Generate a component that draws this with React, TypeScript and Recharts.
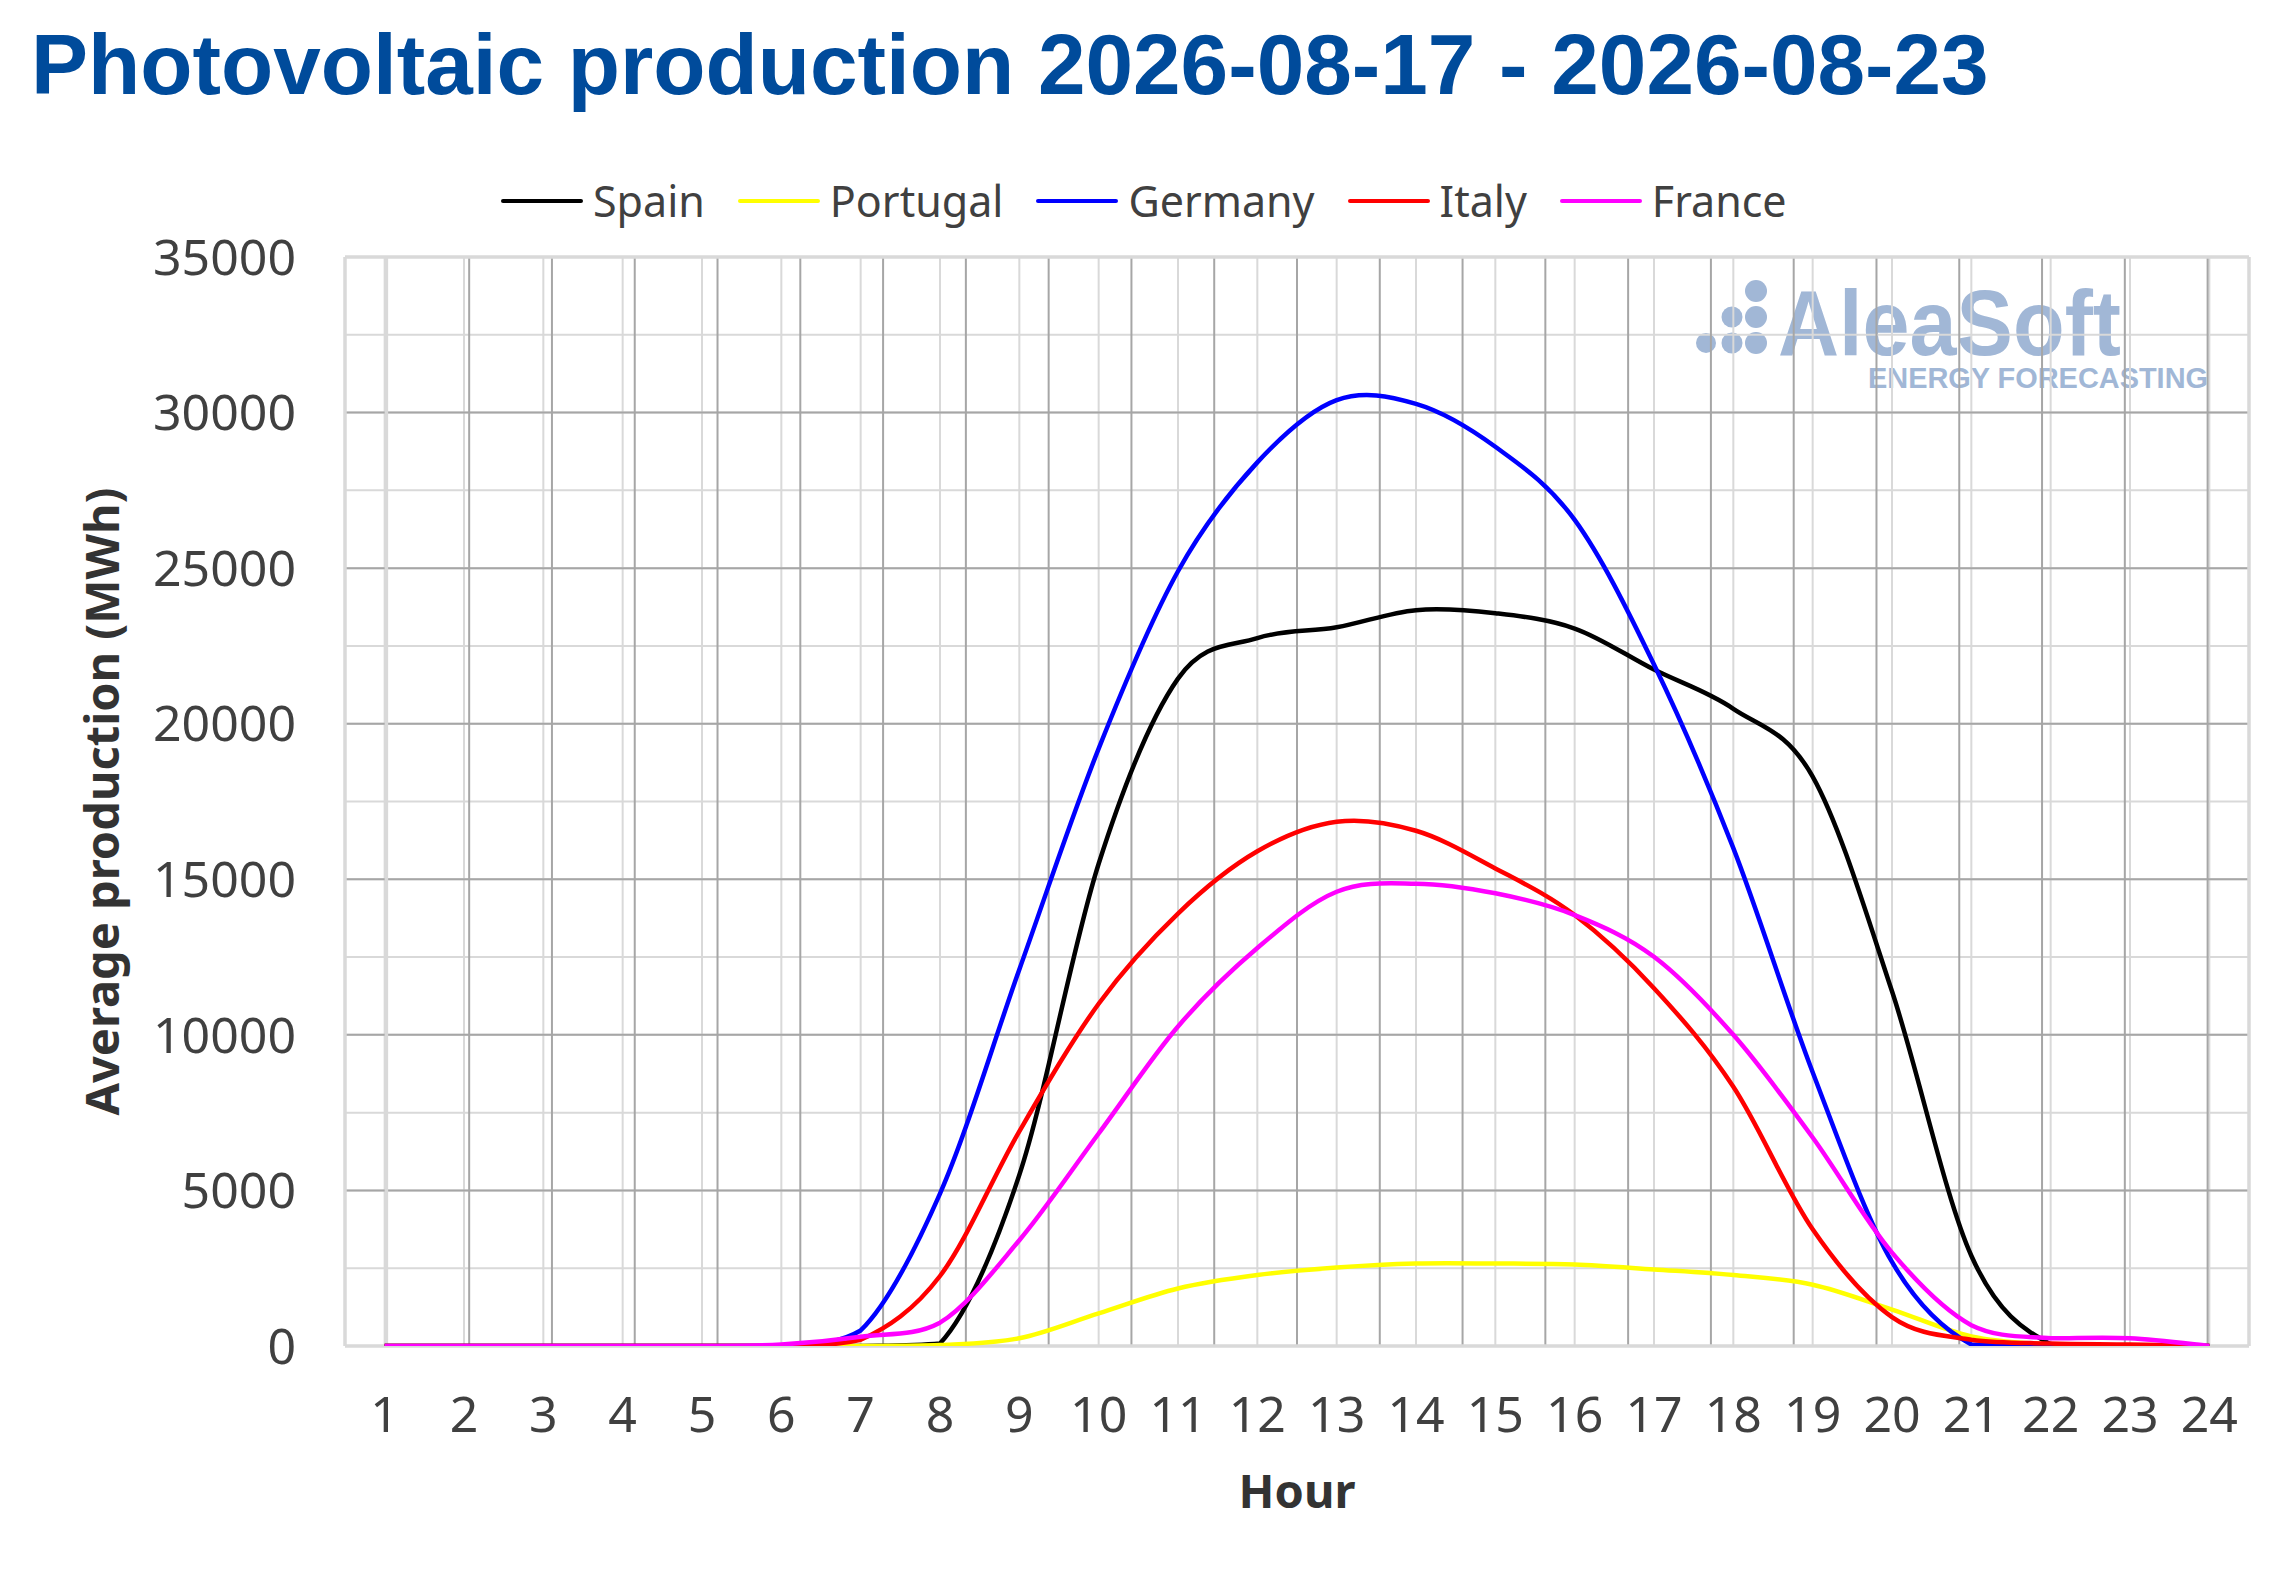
import React from 'react';
import { LineChart, Line, XAxis, YAxis, CartesianGrid } from 'recharts';

const HOURS = [1, 2, 3, 4, 5, 6, 7, 8, 9, 10, 11, 12, 13, 14, 15, 16, 17, 18, 19, 20, 21, 22, 23, 24];

const SPAIN = [0, 0, 0, 0, 0, 0, 0, 80, 5500, 15500, 21450, 22750, 23100, 23650, 23550, 23060, 21740, 20480, 18300, 11400, 2900, 50, 0, 0];
const PORTUGAL = [0, 0, 0, 0, 0, 0, 0, 30, 250, 1050, 1850, 2280, 2520, 2650, 2650, 2620, 2460, 2280, 1970, 1170, 310, 50, 0, 0];
const GERMANY = [0, 0, 0, 0, 0, 0, 500, 4900, 12100, 19200, 24900, 28400, 30400, 30280, 28900, 26550, 21900, 16000, 8800, 2700, 50, 0, 0, 0];
const ITALY = [0, 0, 0, 0, 0, 0, 200, 2250, 6900, 11000, 13900, 15900, 16850, 16560, 15350, 13850, 11500, 8330, 3750, 930, 200, 80, 50, 0];
const FRANCE = [0, 0, 0, 0, 0, 50, 300, 750, 3400, 6830, 10270, 12790, 14600, 14860, 14550, 13850, 12510, 10000, 6700, 3000, 670, 250, 250, 0];

const SERIES = [
  { key: 'Spain', color: '#000000', width: 4.5, values: SPAIN },
  { key: 'Portugal', color: '#ffff00', width: 4.5, values: PORTUGAL },
  { key: 'Germany', color: '#0000ff', width: 4.5, values: GERMANY },
  { key: 'Italy', color: '#ff0000', width: 4.5, values: ITALY },
  { key: 'France', color: '#ff00ff', width: 4.5, values: FRANCE },
];

const Y_TICKS = [0, 5000, 10000, 15000, 20000, 25000, 30000, 35000];
const Y_INNER_TICKS = [5000, 10000, 15000, 20000, 25000, 30000];
const Y_MINOR_TICKS = [0, 2500, 5000, 7500, 10000, 12500, 15000, 17500, 20000, 22500, 25000, 27500, 30000, 32500, 35000];
const Y_FRAME_TICKS = [0, 35000];
const X_EDGE_TICKS = [1.5, 2.5, 3.5, 4.5, 5.5, 6.5, 7.5, 8.5, 9.5, 10.5, 11.5, 12.5, 13.5, 14.5, 15.5, 16.5, 17.5, 18.5, 19.5, 20.5, 21.5, 22.5, 23.5];
const X_FRAME_TICKS = [0.5, 24.5];

const data = HOURS.map((hour, i) => {
  const row: Record<string, number> = { hour };
  SERIES.forEach(s => { row[s.key] = s.values[i]; });
  return row;
});

// Excel-like smoothing: catmull-rom beziers, but controls may not sink below the lower end of a segment
const excelSmooth = (context: any) => {
  let pts: number[][] = [];
  return {
    areaStart() {},
    areaEnd() {},
    lineStart() { pts = []; },
    point(x: number, y: number) { pts.push([+x, +y]); },
    lineEnd() {
      if (!pts.length) return;
      context.moveTo(pts[0][0], pts[0][1]);
      for (let i = 0; i < pts.length - 1; i++) {
        const p0 = pts[Math.max(i - 1, 0)];
        const p1 = pts[i];
        const p2 = pts[i + 1];
        const p3 = pts[Math.min(i + 2, pts.length - 1)];
        const floor = Math.max(p1[1], p2[1]);
        const c1y = Math.min(p1[1] + (p2[1] - p0[1]) / 6, floor);
        const c2y = Math.min(p2[1] - (p3[1] - p1[1]) / 6, floor);
        context.bezierCurveTo(p1[0] + (p2[0] - p0[0]) / 6, c1y, p2[0] - (p3[0] - p1[0]) / 6, c2y, p2[0], p2[1]);
      }
    },
  };
};

const FONT = '"Noto Sans", sans-serif';
const LIGHT = '#d9d9d9';
const DARK = '#a6a6a6';

export default function App() {
  return (
    <div style={{ position: 'absolute', left: 0, top: 0, width: 2273, height: 1589, background: '#fff', fontFamily: FONT }}>
      <svg width={2273} height={1589} style={{ position: 'absolute', left: 0, top: 0 }}>
        <text x={31} y={94} fontFamily='"Liberation Sans", Arial, sans-serif' fontWeight="bold" fontSize={85.5} fill="#004b9b">
          Photovoltaic production 2026-08-17 - 2026-08-23
        </text>
        <g fill="#a1b7d6">
          <circle cx={1706} cy={343} r={10} />
          <circle cx={1732} cy={317} r={10.5} />
          <circle cx={1732} cy={343} r={10.5} />
          <circle cx={1756} cy={291} r={11} />
          <circle cx={1756} cy={317} r={11} />
          <circle cx={1756} cy={343} r={11} />
          <text x={1778} y={355} fontFamily='"Liberation Sans", Arial, sans-serif' fontWeight="bold" fontSize={92} textLength={343} lengthAdjust="spacingAndGlyphs">
            AleaSoft
          </text>
          <text x={1868} y={388} fontFamily='"Liberation Sans", Arial, sans-serif' fontWeight="bold" fontSize={29} textLength={340} lengthAdjust="spacingAndGlyphs">
            ENERGY FORECASTING
          </text>
        </g>
      </svg>

      <div style={{ position: 'absolute', left: 501, top: 171, display: 'flex', alignItems: 'center', fontSize: 43, color: '#404040', whiteSpace: 'nowrap' }}>
        {SERIES.map(s => (
          <div key={s.key} style={{ display: 'flex', alignItems: 'center', marginRight: 33 }}>
            <span style={{ display: 'inline-block', width: 82, height: 4, background: s.color, marginRight: 10, borderRadius: 2 }} />
            <span>{s.key}</span>
          </div>
        ))}
      </div>

      <div style={{ position: 'absolute', left: 0, top: 0 }}>
        <LineChart width={2273} height={1589} data={data} margin={{ top: 257, right: 24, bottom: 0, left: 0 }}>
          <XAxis
            xAxisId="main"
            dataKey="hour"
            type="number"
            domain={[0.5, 24.5]}
            allowDataOverflow
            ticks={HOURS}
            interval={0}
            height={243}
            tickLine={false}
            axisLine={false}
            tickSize={0}
            tickMargin={50}
            tick={{ fontSize: 50, fill: '#404040', fontFamily: FONT }}
            label={{ value: 'Hour', position: 'insideBottom', offset: 81, style: { fontSize: 47, fontWeight: 'bold', fill: '#333333', fontFamily: FONT } }}
          />
          <XAxis xAxisId="edges" type="number" domain={[0.5, 24.5]} allowDataOverflow ticks={X_EDGE_TICKS} height={0} hide />
          <XAxis xAxisId="frame" type="number" domain={[0.5, 24.5]} allowDataOverflow ticks={X_FRAME_TICKS} height={0} hide />
          <YAxis
            yAxisId="main"
            type="number"
            domain={[0, 35000]}
            allowDataOverflow
            ticks={Y_TICKS}
            interval={0}
            width={345}
            tickLine={false}
            axisLine={false}
            tickSize={0}
            tickMargin={49}
            tick={{ fontSize: 50, fill: '#404040', fontFamily: FONT }}
            label={{ value: 'Average production (MWh)', angle: -90, position: 'insideLeft', offset: 102, style: { textAnchor: 'middle', fontSize: 47, fontWeight: 'bold', fill: '#333333', fontFamily: FONT } }}
          />
          <YAxis yAxisId="minor" type="number" domain={[0, 35000]} allowDataOverflow ticks={Y_MINOR_TICKS} width={0} hide />
          <YAxis yAxisId="inner" type="number" domain={[0, 35000]} allowDataOverflow ticks={Y_INNER_TICKS} width={0} hide />
          <YAxis yAxisId="frame" type="number" domain={[0, 35000]} allowDataOverflow ticks={Y_FRAME_TICKS} width={0} hide />

          <CartesianGrid xAxisId="main" yAxisId="minor" stroke={LIGHT} strokeWidth={2} />
          <CartesianGrid xAxisId="edges" yAxisId="inner" stroke={DARK} strokeWidth={2} />
          <CartesianGrid xAxisId="frame" yAxisId="frame" stroke={LIGHT} strokeWidth={3.5} />

          {SERIES.map(s => (
            <Line
              key={s.key}
              xAxisId="main"
              yAxisId="main"
              dataKey={s.key}
              type={excelSmooth as any}
              stroke={s.color}
              strokeWidth={s.width}
              dot={false}
              activeDot={false}
              isAnimationActive={false}
            />
          ))}
        </LineChart>
      </div>
    </div>
  );
}
